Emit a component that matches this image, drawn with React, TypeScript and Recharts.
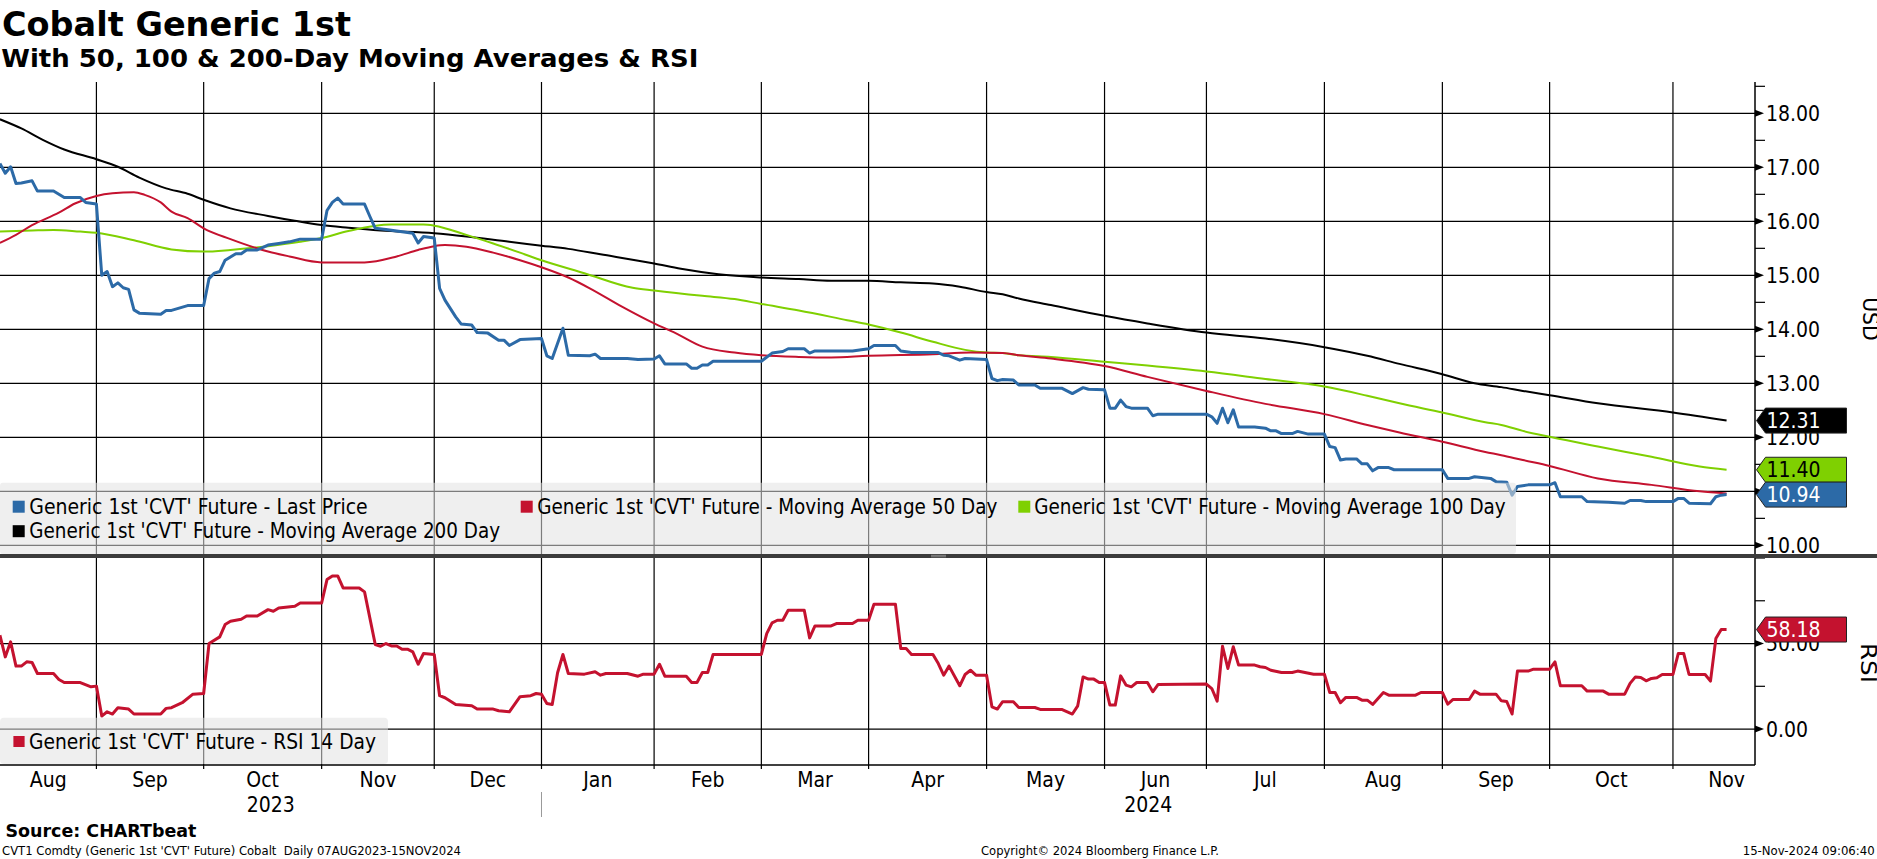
import React from 'react'
import { LineChart, Line, XAxis, YAxis, CartesianGrid } from 'recharts'

const FONT = "'DejaVu Sans Condensed', 'Liberation Sans', 'DejaVu Sans', sans-serif"
const BOLD = "'DejaVu Sans', sans-serif"

const BLUE = '#2c6aa7'
const RED = '#c4122f'
const GREEN = '#7fd001'
const BLACK = '#000000'

// x = trading day counted from 07 Aug 2023 (day 0)
const X_MIN = 1.02
const X_MAX = 328.3
const monthStarts = [19, 39, 61, 82, 102, 123, 143, 163, 185, 207, 226, 248, 270, 290, 313]
const monthNames = ['Aug', 'Sep', 'Oct', 'Nov', 'Dec', 'Jan', 'Feb', 'Mar', 'Apr', 'May', 'Jun', 'Jul', 'Aug', 'Sep', 'Oct', 'Nov']
const lastMonthEnd = 333
const yearStart2024 = 102
const yearNames = ['2023', '2024']

const priceGrid = [10, 11, 12, 13, 14, 15, 16, 17, 18]
const priceTicks = [10, 10.5, 11, 11.5, 12, 12.5, 13, 13.5, 14, 14.5, 15, 15.5, 16, 16.5, 17, 17.5, 18, 18.5]
const rsiGrid = [0, 50]
const rsiTicks = [0, 25, 50, 75, 100]
const rsiLabelled = [0, 50]

const lastPrice = [
  [1, 17.07], [2, 16.89], [3, 17.01], [4, 16.7], [5, 16.71], [7, 16.75], [8, 16.56], [11, 16.56], [13, 16.44], [16, 16.44],
  [17, 16.35], [19, 16.32], [20, 15.0], [21, 15.07], [22, 14.79], [23, 14.86], [24, 14.77], [25, 14.74], [26, 14.36], [27, 14.3],
  [31, 14.28], [32, 14.35], [33, 14.35], [36, 14.44], [39, 14.44], [40, 14.94], [41, 15.04], [42, 15.07], [43, 15.28], [45, 15.4],
  [46, 15.4], [47, 15.47], [49, 15.47], [51, 15.56], [53, 15.59], [55, 15.62], [57, 15.67], [61, 15.67], [62, 16.2], [63, 16.35],
  [64, 16.43], [65, 16.32], [69, 16.32], [70, 16.09], [71, 15.87], [73, 15.85], [75, 15.82], [78, 15.78], [79, 15.6], [80, 15.72],
  [82, 15.69], [83, 14.76], [84, 14.54], [86, 14.23], [87, 14.1], [89, 14.08], [90, 13.94], [92, 13.93], [94, 13.8], [95, 13.8],
  [96, 13.7], [98, 13.81], [102, 13.83], [103, 13.51], [104, 13.46], [106, 14.02], [107, 13.52], [111, 13.51], [112, 13.54], [113, 13.46],
  [118, 13.46], [120, 13.44], [123, 13.45], [124, 13.51], [125, 13.36], [129, 13.36], [130, 13.28], [131, 13.28], [132, 13.34], [133, 13.34],
  [134, 13.41], [143, 13.41], [145, 13.56], [147, 13.59], [148, 13.64], [151, 13.64], [152, 13.56], [153, 13.6], [160, 13.6], [163, 13.64],
  [164, 13.7], [168, 13.7], [169, 13.6], [171, 13.57], [176, 13.57], [177, 13.52], [178, 13.51], [180, 13.43], [181, 13.46], [185, 13.44],
  [186, 13.09], [187, 13.05], [188, 13.07], [190, 13.06], [191, 12.97], [194, 12.97], [195, 12.91], [199, 12.91], [201, 12.81], [203, 12.92],
  [204, 12.89], [207, 12.88], [208, 12.54], [209, 12.54], [210, 12.69], [211, 12.57], [212, 12.54], [215, 12.54], [216, 12.4], [217, 12.43],
  [226, 12.43], [227, 12.38], [228, 12.26], [229, 12.54], [230, 12.27], [231, 12.51], [232, 12.19], [235, 12.19], [237, 12.17], [238, 12.12],
  [239, 12.12], [240, 12.07], [242, 12.07], [243, 12.11], [245, 12.06], [248, 12.06], [249, 11.83], [250, 11.81], [251, 11.58], [252, 11.6],
  [254, 11.6], [255, 11.51], [256, 11.51], [257, 11.38], [258, 11.44], [260, 11.44], [261, 11.4], [270, 11.4], [271, 11.24], [275, 11.24],
  [276, 11.27], [279, 11.24], [280, 11.18], [282, 11.17], [283, 10.93], [284, 11.09], [286, 11.12], [290, 11.12], [291, 11.16], [292, 10.9],
  [296, 10.9], [297, 10.81], [301, 10.8], [304, 10.78], [305, 10.83], [307, 10.83], [308, 10.81], [313, 10.81], [314, 10.87], [315, 10.87],
  [316, 10.78], [320, 10.77], [321, 10.9], [322, 10.93], [323, 10.94],
]

const ma50 = [
  [1, 15.6], [4, 15.75], [7, 15.93], [12, 16.16], [15, 16.33], [19, 16.47], [22, 16.52], [26, 16.54], [28, 16.49], [31, 16.35],
  [33, 16.18], [36, 16.06], [39, 15.87], [44, 15.67], [51, 15.44], [55, 15.35], [61, 15.24], [69, 15.24], [75, 15.35], [79, 15.47],
  [82, 15.54], [84, 15.56], [88, 15.53], [93, 15.42], [98, 15.28], [102, 15.15], [107, 14.96], [111, 14.76], [117, 14.42], [123, 14.11],
  [127, 13.93], [132, 13.68], [138, 13.57], [143, 13.52], [150, 13.49], [156, 13.48], [163, 13.51], [175, 13.54], [182, 13.57], [188, 13.56],
  [191, 13.52], [197, 13.46], [207, 13.32], [215, 13.12], [226, 12.86], [237, 12.62], [248, 12.43], [256, 12.23], [262, 12.09], [270, 11.92],
  [278, 11.73], [281, 11.67], [285, 11.58], [290, 11.47], [299, 11.24], [309, 11.12], [318, 11.0], [323, 10.96],
]

const ma100 = [
  [1, 15.81], [7, 15.83], [11, 15.84], [16, 15.81], [19, 15.79], [26, 15.65], [33, 15.48], [39, 15.44], [44, 15.47], [51, 15.54],
  [57, 15.62], [61, 15.69], [66, 15.82], [74, 15.94], [80, 15.94], [82, 15.92], [88, 15.75], [93, 15.59], [98, 15.42], [102, 15.28],
  [110, 15.04], [119, 14.77], [123, 14.72], [132, 14.62], [138, 14.56], [143, 14.47], [150, 14.35], [159, 14.17], [163, 14.09], [169, 13.94],
  [175, 13.77], [181, 13.62], [185, 13.57], [188, 13.56], [191, 13.52], [197, 13.49], [207, 13.4], [215, 13.33], [226, 13.22], [237, 13.08],
  [248, 12.94], [256, 12.77], [262, 12.63], [270, 12.46], [278, 12.28], [281, 12.23], [285, 12.12], [290, 12.01], [299, 11.83], [309, 11.64],
  [318, 11.46], [323, 11.4],
]

const ma200 = [
  [1, 17.89], [5, 17.72], [9, 17.51], [13, 17.33], [19, 17.15], [23, 17.01], [27, 16.81], [32, 16.61], [36, 16.51], [39, 16.4],
  [44, 16.24], [51, 16.1], [56, 16.01], [61, 15.93], [66, 15.88], [72, 15.83], [82, 15.78], [88, 15.72], [96, 15.62], [102, 15.55],
  [107, 15.49], [113, 15.39], [123, 15.22], [128, 15.12], [135, 15.02], [143, 14.96], [150, 14.93], [156, 14.9], [163, 14.9], [169, 14.87],
  [175, 14.85], [180, 14.79], [185, 14.69], [188, 14.65], [191, 14.57], [197, 14.45], [207, 14.25], [215, 14.11], [226, 13.94], [237, 13.83],
  [248, 13.67], [256, 13.51], [262, 13.36], [270, 13.17], [276, 13.0], [281, 12.93], [285, 12.86], [290, 12.78], [299, 12.63], [313, 12.46],
  [323, 12.31],
]

const rsi14 = [
  [1, 54.9], [2, 42.2], [3, 51.0], [4, 36.8], [5, 36.8], [6, 39.3], [7, 38.9], [8, 32.5], [11, 32.5], [12, 29.0],
  [13, 27.2], [16, 27.2], [18, 24.7], [19, 25.1], [20, 7.6], [21, 10.1], [22, 8.8], [23, 12.5], [25, 11.7], [26, 8.8],
  [31, 8.8], [32, 12.1], [33, 12.5], [35, 15.4], [37, 20.4], [39, 20.8], [40, 50.0], [42, 53.9], [43, 61.1], [44, 63.0],
  [46, 64.2], [47, 66.1], [49, 66.1], [51, 69.8], [52, 68.9], [53, 70.8], [56, 71.8], [57, 73.7], [61, 73.7], [62, 87.4],
  [63, 89.5], [64, 89.5], [65, 82.5], [68, 82.5], [69, 80.2], [71, 49.4], [72, 48.4], [73, 50.0], [74, 48.6], [75, 48.6],
  [76, 46.7], [77, 46.7], [78, 45.1], [79, 37.9], [80, 44.2], [82, 43.6], [83, 19.5], [84, 18.3], [86, 14.4], [89, 13.6],
  [90, 11.7], [93, 11.7], [94, 10.7], [96, 10.1], [98, 18.9], [100, 19.5], [101, 20.8], [102, 20.4], [103, 15.0], [104, 14.4],
  [105, 32.9], [106, 43.6], [107, 32.5], [110, 32.1], [112, 33.5], [113, 31.5], [114, 32.5], [118, 32.5], [120, 30.9], [121, 32.1],
  [123, 32.1], [124, 37.9], [125, 30.9], [129, 30.9], [130, 27.2], [131, 27.2], [132, 33.1], [133, 33.1], [134, 43.6], [143, 43.6],
  [144, 55.8], [145, 62.1], [146, 63.6], [147, 63.6], [148, 69.5], [151, 69.5], [152, 53.3], [153, 60.3], [156, 60.3], [157, 61.7],
  [160, 61.7], [161, 63.6], [163, 63.6], [164, 73.0], [168, 73.0], [169, 47.1], [170, 47.1], [171, 43.6], [175, 43.6], [176, 38.3],
  [177, 31.5], [178, 36.8], [180, 25.3], [181, 31.9], [182, 34.4], [183, 31.5], [185, 31.5], [186, 13.0], [187, 11.7], [188, 16.0],
  [190, 16.0], [191, 12.6], [194, 12.6], [195, 11.5], [199, 11.5], [201, 8.8], [202, 13.6], [203, 30.5], [204, 29.2], [205, 29.2],
  [206, 27.2], [207, 27.2], [208, 14.0], [209, 14.0], [210, 31.1], [211, 25.7], [212, 24.7], [213, 27.2], [215, 27.2], [216, 21.8],
  [217, 26.1], [226, 26.3], [227, 23.7], [228, 16.3], [229, 48.4], [230, 35.4], [231, 48.1], [232, 37.4], [235, 37.4], [236, 36.4],
  [237, 36.0], [238, 34.4], [240, 33.1], [242, 33.1], [243, 33.9], [246, 32.1], [248, 32.1], [249, 21.4], [250, 21.4], [251, 15.4],
  [252, 18.5], [254, 18.5], [255, 16.9], [256, 16.9], [257, 14.4], [259, 21.4], [260, 19.8], [265, 19.8], [266, 21.4], [270, 21.4],
  [271, 14.6], [272, 17.3], [275, 17.3], [276, 22.2], [277, 20.4], [280, 20.4], [281, 16.5], [282, 16.1], [283, 8.8], [284, 33.9],
  [286, 33.9], [287, 35.0], [290, 35.0], [291, 39.3], [292, 25.3], [296, 25.3], [297, 22.2], [300, 22.2], [301, 20.4], [304, 20.4],
  [305, 26.7], [306, 30.5], [307, 30.2], [308, 28.2], [309, 29.6], [310, 30.0], [311, 31.9], [313, 31.9], [314, 44.2], [315, 44.2],
  [316, 31.9], [319, 31.9], [320, 28.0], [321, 52.9], [322, 58.2], [323, 58.18],
]

const toPts = (a: number[][]) => a.map(([d, v]) => ({ d, v }))
const lastOf = (a: number[][]) => a[a.length - 1][1]

// right side is split in two axes: scale labels, then the last-value boxes drawn on top of them
const AXIS_W = 61
const BOX_W = 61

const upperBoxes = [
  { v: lastOf(ma200), fill: BLACK, color: '#fff' },
  { v: lastOf(ma100), fill: GREEN, color: '#000' },
  { v: lastOf(lastPrice), fill: BLUE, color: '#fff' },
]
const lowerBoxes = [{ v: lastOf(rsi14), fill: RED, color: '#fff' }]

// bottom axis: month boundaries (tick marks), month names and years (labels)
const bounds = [X_MIN, ...monthStarts, lastMonthEnd]
const axisTicks: { v: number; kind: string; label?: string }[] = [
  ...monthStarts.map((v) => ({ v, kind: 'bound' })),
  ...monthNames.map((label, i) => ({ v: (bounds[i] + bounds[i + 1]) / 2, kind: 'month', label })),
  { v: (X_MIN + yearStart2024) / 2, kind: 'year', label: yearNames[0] },
  { v: (yearStart2024 + X_MAX) / 2, kind: 'year', label: yearNames[1] },
]

function MonthTick(props: any) {
  const { x, y, payload } = props
  const t = axisTicks.find((a) => Math.abs(a.v - payload.value) < 1e-6)
  if (!t) return <g />
  if (t.kind === 'bound') {
    return (
      <g>
        <line x1={x} x2={x} y1={y} y2={y + 4} stroke="#000" strokeWidth={1.2} />
        {t.v === yearStart2024 && <line x1={x} x2={x} y1={y + 27} y2={y + 52} stroke="#999" strokeWidth={1} />}
      </g>
    )
  }
  return (
    <text x={x} y={y + (t.kind === 'month' ? 22.3 : 46.7)} textAnchor="middle" fontSize={21} fontFamily={FONT} fill="#000">
      {t.label}
    </text>
  )
}

function AxisTick(props: any) {
  const { x, y, payload, major } = props
  const v = payload.value
  if (!major(v)) return <line x1={x} x2={x + 10} y1={y} y2={y} stroke="#000" strokeWidth={1.2} />
  return (
    <g>
      <polygon points={`${x},${y - 3.5} ${x + 9},${y} ${x},${y + 3.5}`} fill="#000" />
      <text x={x + 11} y={y} dy="0.36em" fontSize={21} fontFamily={FONT} fill="#000">
        {v.toFixed(2)}
      </text>
    </g>
  )
}

function BoxTick(props: any) {
  const { x, y, payload, boxes } = props
  const b = boxes.find((bb: any) => Math.abs(bb.v - payload.value) < 1e-9)
  if (!b) return <g />
  const x0 = x - AXIS_W + 1.5
  const h = 25
  const w = 90
  return (
    <g>
      <polygon
        points={`${x0},${y} ${x0 + 9},${y - h / 2} ${x0 + w},${y - h / 2} ${x0 + w},${y + h / 2} ${x0 + 9},${y + h / 2}`}
        fill={b.fill}
        stroke="#222"
        strokeWidth={1}
      />
      <text x={x0 + 10} y={y} dy="0.36em" fill={b.color} fontSize={21} fontFamily={FONT}>
        {b.v.toFixed(2)}
      </text>
    </g>
  )
}

function T({ x, y, w, size, bold, children, anchor, rotate }: any) {
  return (
    <text
      x={x}
      y={y}
      fontSize={size}
      fontFamily={bold ? BOLD : FONT}
      fontWeight={bold ? 700 : 400}
      textLength={w}
      lengthAdjust="spacingAndGlyphs"
      textAnchor={anchor}
      transform={rotate ? `rotate(90 ${x} ${y})` : undefined}
      style={{ whiteSpace: 'pre' }}
      fill="#000"
    >
      {children}
    </text>
  )
}

const LEG = "Generic 1st 'CVT' Future - "

export default function App() {
  const lineProps = { dataKey: 'v', dot: false, isAnimationActive: false, strokeLinejoin: 'round' as const }
  const axisCommon = {
    orientation: 'right' as const,
    type: 'number' as const,
    allowDataOverflow: true,
    interval: 0 as const,
    tickSize: 0,
    tickMargin: 0,
    tickLine: false,
  }
  return (
    <div style={{ position: 'absolute', left: 0, top: 0, width: 1877, height: 859, background: '#fff', overflow: 'hidden' }}>
      <div style={{ position: 'absolute', left: 0, top: 0 }}>
        <LineChart width={1877} height={560} margin={{ top: 82, right: 0, bottom: 6, left: 0 }}>
          <CartesianGrid horizontalValues={priceGrid} verticalValues={monthStarts} stroke="#000" strokeWidth={1.2} />
          <XAxis dataKey="d" type="number" domain={[X_MIN, X_MAX]} allowDataOverflow hide />
          <YAxis
            {...axisCommon}
            domain={[9.84, 18.58]}
            ticks={priceTicks}
            width={AXIS_W}
            axisLine={{ stroke: '#000', strokeWidth: 1.5 }}
            tick={(p: any) => <AxisTick {...p} major={(v: number) => Number.isInteger(v)} />}
          />
          <YAxis
            {...axisCommon}
            yAxisId="last"
            domain={[9.84, 18.58]}
            ticks={upperBoxes.map((b) => b.v)}
            width={BOX_W}
            axisLine={false}
            tick={(p: any) => <BoxTick {...p} boxes={upperBoxes} />}
          />
          <Line {...lineProps} type="monotone" data={toPts(ma200)} stroke={BLACK} strokeWidth={2} />
          <Line {...lineProps} type="monotone" data={toPts(ma100)} stroke={GREEN} strokeWidth={2} />
          <Line {...lineProps} type="monotone" data={toPts(ma50)} stroke={RED} strokeWidth={2} />
          <Line {...lineProps} type="linear" data={toPts(lastPrice)} stroke={BLUE} strokeWidth={3} />
        </LineChart>
      </div>
      <div style={{ position: 'absolute', left: 0, top: 554 }}>
        <LineChart width={1877} height={305} margin={{ top: 4, right: 0, bottom: 0, left: 0 }}>
          <CartesianGrid horizontalValues={rsiGrid} verticalValues={monthStarts} stroke="#000" strokeWidth={1.2} />
          <XAxis
            dataKey="d"
            type="number"
            domain={[X_MIN, X_MAX]}
            allowDataOverflow
            ticks={axisTicks.map((t) => t.v)}
            interval={0}
            height={94}
            tickSize={0}
            tickMargin={0}
            tickLine={false}
            axisLine={{ stroke: '#000', strokeWidth: 1.5 }}
            tick={(p: any) => <MonthTick {...p} />}
          />
          <YAxis
            {...axisCommon}
            domain={[-21, 100]}
            ticks={rsiTicks}
            width={AXIS_W}
            axisLine={{ stroke: '#000', strokeWidth: 1.5 }}
            tick={(p: any) => <AxisTick {...p} major={(v: number) => rsiLabelled.includes(v)} />}
          />
          <YAxis
            {...axisCommon}
            yAxisId="last"
            domain={[-21, 100]}
            ticks={lowerBoxes.map((b) => b.v)}
            width={BOX_W}
            axisLine={false}
            tick={(p: any) => <BoxTick {...p} boxes={lowerBoxes} />}
          />
          <Line {...lineProps} type="linear" data={toPts(rsi14)} stroke={RED} strokeWidth={3} />
        </LineChart>
      </div>
      <svg width={1877} height={859} style={{ position: 'absolute', left: 0, top: 0, pointerEvents: 'none' }}>
        <T x={2} y={36} w={349} size={33.5} bold>Cobalt Generic 1st</T>
        <T x={1.3} y={66.7} w={697} size={25} bold>With 50, 100 &amp; 200-Day Moving Averages &amp; RSI</T>

        <rect x={0} y={482.7} width={1516} height={71.3} rx={3} fill="#e2e2e2" fillOpacity={0.55} />
        <rect x={12.7} y={500.7} width={12} height={12} fill={BLUE} />
        <T x={29.3} y={514} w={338.4} size={20.5}>{LEG + 'Last Price'}</T>
        <rect x={520.7} y={500.7} width={12} height={12} fill={RED} />
        <T x={537.3} y={514} w={460} size={20.5}>{LEG + 'Moving Average 50 Day'}</T>
        <rect x={1018.3} y={500.7} width={12} height={12} fill={GREEN} />
        <T x={1034.3} y={514} w={471.4} size={20.5}>{LEG + 'Moving Average 100 Day'}</T>
        <rect x={12.7} y={525.2} width={12} height={12} fill={BLACK} />
        <T x={29.3} y={538.4} w={470.7} size={20.5}>{LEG + 'Moving Average 200 Day'}</T>

        <rect x={0} y={554} width={1877} height={4} fill="#3c3c3c" />
        <line x1={931} x2={946} y1={555.3} y2={555.3} stroke="#9a9a9a" strokeWidth={0.8} />
        <line x1={931} x2={946} y1={556.8} y2={556.8} stroke="#9a9a9a" strokeWidth={0.8} />

        <rect x={0} y={717.7} width={388} height={46.3} rx={4} fill="#e2e2e2" fillOpacity={0.55} />
        <rect x={13.4} y={736} width={11.2} height={11} fill={RED} />
        <T x={29} y={749.3} w={347} size={20.5}>{LEG + 'RSI 14 Day'}</T>

        <T x={1862.5} y={319} w={43.7} size={21} anchor="middle" rotate>USD</T>
        <T x={1861} y={663} w={40} size={21} anchor="middle" rotate>RSI</T>

        <T x={5.4} y={836.7} w={191} size={17.5} bold>Source: CHARTbeat</T>
        <T x={2} y={855} w={459} size={13}>CVT1 Comdty (Generic 1st 'CVT' Future) Cobalt  Daily 07AUG2023-15NOV2024</T>
        <T x={981} y={855} w={238} size={13}>Copyright© 2024 Bloomberg Finance L.P.</T>
        <T x={1742.7} y={855} w={132} size={13}>15-Nov-2024 09:06:40</T>
      </svg>
    </div>
  )
}
